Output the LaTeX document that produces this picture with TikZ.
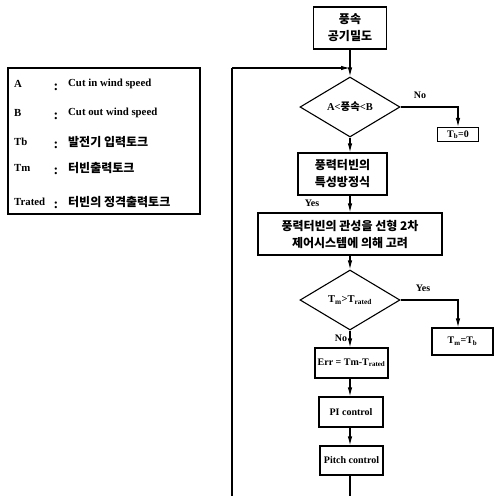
\documentclass[tikz,border=0pt]{standalone}
\usepackage{fontspec}
\setmainfont{Liberation Serif}
\newfontfamily\kr{Noto Sans CJK KR}
\usetikzlibrary{shapes.geometric,arrows.meta}
\begin{document}
\begin{tikzpicture}[x=1pt,y=-1pt,
  box/.style={draw,line width=1.1pt,inner sep=0pt,align=center,font=\kr\bfseries\fontsize{12}{17}\selectfont},
  lbox/.style={draw,line width=1.1pt,inner sep=0pt,align=center,font=\bfseries\fontsize{10}{12}\selectfont},
  dia/.style={draw,line width=1.1pt,diamond,inner sep=0pt,minimum width=100pt,minimum height=60pt,font=\bfseries\fontsize{10.5}{12}\selectfont},
  flow/.style={line width=1.1pt,-{Latex[length=9pt,width=4.5pt]}},
  line/.style={line width=1.1pt},
  lab/.style={font=\bfseries\fontsize{10}{12}\selectfont,inner sep=0pt},
  leg/.style={anchor=west,inner sep=0pt,font=\bfseries\fontsize{10.8}{12}\selectfont},
  legk/.style={anchor=west,inner sep=0pt,font=\kr\bfseries\fontsize{12}{12}\selectfont},
  colon/.style={inner sep=0pt,font=\bfseries\fontsize{14}{14}\selectfont}]
\useasboundingbox (0,0) rectangle (495,496);
% legend
\node[draw,line width=1.1pt,minimum width=192pt,minimum height=146pt,inner sep=0pt] (legend) at (104,141) {};
\node[leg] (la) at (14,84) {A};
\node[leg] (lb) at (14,113) {B};
\node[leg] (ltb) at (14,142) {Tb};
\node[leg] (ltm) at (14,168) {Tm};
\node[leg] (ltr) at (14,202) {Trated};
\node[colon] (ca) at (56,87) {:};
\node[colon] (cb) at (56,116) {:};
\node[colon] (ctb) at (56,145) {:};
\node[colon] (ctm) at (56,171) {:};
\node[colon] (ctr) at (56,205) {:};
\node[leg] (ta) at (68,84) {Cut in wind speed};
\node[leg] (tb) at (68,113) {Cut out wind speed};
\node[legk] (ttb) at (68,142) {발전기 입력토크};
\node[legk] (ttm) at (68,168) {터빈출력토크};
\node[legk] (ttr) at (68,202) {터빈의 정격출력토크};
% flowchart
\node[box,minimum width=73pt,minimum height=42pt] (top) at (350,28) {풍속\\공기밀도};
\node[dia] (d1) at (350,107) {A<{\kr\bfseries 풍속}<B};
\node[lbox,minimum width=41pt,minimum height=14pt] (tb0) at (458,134.5) {T\textsubscript{b}=0};
\node[box,minimum width=89pt,minimum height=42pt] (eq) at (342.5,174) {풍력터빈의\\특성방정식};
\node[box,minimum width=184pt,minimum height=42pt] (ctrl) at (350,234) {풍력터빈의 관성을 선형 2차\\제어시스템에 의해 고려};
\node[dia] (d2) at (350,300) {T\textsubscript{m}>T\textsubscript{rated}};
\node[lbox,minimum width=61pt,minimum height=27pt] (tmtb) at (462.5,341.5) {T\textsubscript{m}=T\textsubscript{b}};
\node[lbox,minimum width=73pt,minimum height=30pt] (err) at (351.5,363) {Err = Tm-T\textsubscript{rated}};
\node[lbox,minimum width=64pt,minimum height=30pt] (pi) at (351,412) {PI control};
\node[lbox,minimum width=63pt,minimum height=29pt] (pitch) at (351.5,460.5) {Pitch control};
\coordinate (bl) at (232,496);
\coordinate (bc) at (350,496);
\coordinate (fb) at (232,68);
\coordinate (mj) at (350,68);
% connectors
\draw[flow] (top.south) -- (d1.north);
\draw[line] (bl) -- (fb);
\draw[flow] (fb) -- (mj);
\draw[flow] (d1.east) -| (tb0.north);
\draw[flow] (d1.south) -- (d1.south |- eq.north);
\draw[flow] (d1.south |- eq.south) -- (ctrl.north);
\draw[flow] (ctrl.south) -- (d2.north);
\draw[flow] (d2.east) -| (tmtb.north -| tb0.north);
\draw[flow] (d2.south) -- (d2.south |- err.north);
\draw[flow] (d2.south |- err.south) -- (d2.south |- pi.north);
\draw[flow] (d2.south |- pi.south) -- (d2.south |- pitch.north);
\draw[line] (d2.south |- pitch.south) -- (bc);
% labels
\node[lab] (no1) at (420,95) {No};
\node[lab] (yes1) at (312,203) {Yes};
\node[lab] (yes2) at (423,288) {Yes};
\node[lab] (no2) at (341,338) {No};
\end{tikzpicture}
\end{document}
